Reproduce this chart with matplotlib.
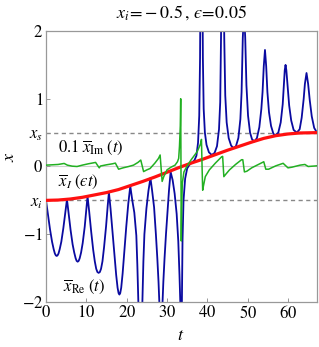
import matplotlib
matplotlib.use("Agg")
import matplotlib.pyplot as plt

plt.rcParams['font.family'] = ['Liberation Serif', 'DejaVu Serif']
plt.rcParams['mathtext.fontset'] = 'stix'

# x_Re(t)
t_re = [0, 0.5, 1.0, 1.5, 1.9, 2.2, 2.45, 2.65, 2.85, 3.1, 3.4, 3.8, 4.3, 4.8, 5.2,
        5.6, 6.1, 6.6, 7.0, 7.35, 7.6, 7.85, 8.1, 8.35, 8.7, 9.1, 9.6, 10.0, 10.3,
        10.7, 11.2, 11.7, 12.1, 12.45, 12.75, 13.05, 13.35, 13.65, 14.0, 14.4, 14.9, 15.3, 15.6,
        16.0, 16.5, 17.0, 17.4, 17.75, 18.0, 18.2, 18.4, 18.65, 19.0, 19.4, 19.9, 20.4, 20.9,
        21.4, 21.9, 22.4, 22.65, 22.9, 23.15, 23.4, 23.65, 23.9, 24.15, 24.4, 24.9, 25.4, 25.9,
        26.3, 26.8, 27.25, 27.6, 27.9, 28.1, 28.3, 28.5, 28.7, 28.9, 29.1, 29.4, 29.75, 30.2, 30.5, 30.9,
        31.4, 31.9, 32.4, 32.8, 33.1, 33.3, 33.42, 33.5, 33.6, 33.7, 33.85, 34.1, 34.5, 35.0, 35.5, 36.0,
        36.8, 37.3, 37.7, 38.0, 38.2, 38.35, 38.55, 38.75, 38.9, 39.1, 39.4, 39.8, 40.4, 41.1,
        41.8, 42.4, 42.9, 43.2, 43.4, 43.6, 43.8, 44.0, 44.2, 44.45, 44.8, 45.3, 45.9, 46.5,
        47.1, 47.7, 48.2, 48.5, 48.8, 49.1, 49.4, 49.7, 50.1, 50.6, 51.1, 51.7,
        52.3, 52.9, 53.4, 53.7, 54.0, 54.3, 54.6, 54.9, 55.3, 55.8, 56.4, 57.0,
        57.6, 58.2, 58.7, 59.0, 59.2, 59.4, 59.6, 59.9, 60.3, 60.8, 61.4, 62.2,
        62.9, 63.4, 63.9, 64.2, 64.6, 65.0, 65.4, 65.9, 66.5, 67.2]
x_re = [-0.50, -0.72, -0.93, -1.11, -1.22, -1.285, -1.313, -1.32, -1.313, -1.285, -1.22, -1.11, -0.91, -0.68, -0.485,
        -0.69, -0.94, -1.15, -1.27, -1.355, -1.393, -1.405, -1.393, -1.355, -1.27, -1.13, -0.89, -0.63, -0.44,
        -0.66, -0.96, -1.23, -1.40, -1.51, -1.558, -1.57, -1.558, -1.51, -1.40, -1.19, -0.88, -0.58, -0.38,
        -0.62, -0.97, -1.33, -1.60, -1.79, -1.87, -1.89, -1.87, -1.79, -1.58, -1.27, -0.89, -0.55, -0.29,
        -0.50, -0.68, -1.02, -1.45, -2.0, -2.8, -3.2, -2.8, -2.0, -1.4, -1.0, -0.62, -0.36, -0.17,
        -0.35, -0.60, -1.0, -1.35, -1.7, -2.0, -2.8, -4.0, -2.8, -2.0, -1.7, -1.35, -1.0, -0.6, -0.35, -0.08,
        -0.20, -0.40, -0.70, -1.1, -1.6, -2.0, -4.0, -10.0, -4.0, -2.0, -1.1, -0.5, -0.18, -0.03, 0.02, 0.05,
        0.09, 0.16, 0.35, 0.75, 1.6, 3.2, 7.0, 3.2, 1.6, 0.85, 0.5, 0.32, 0.21, 0.17,
        0.20, 0.30, 0.55, 0.95, 1.9, 3.2, 4.5, 3.2, 1.9, 1.05, 0.65, 0.42, 0.31, 0.27,
        0.30, 0.42, 0.70, 1.1, 1.9, 2.3, 1.9, 1.2, 0.75, 0.50, 0.40, 0.37,
        0.42, 0.58, 0.85, 1.1, 1.48, 1.72, 1.48, 1.1, 0.80, 0.60, 0.48, 0.46,
        0.50, 0.65, 0.92, 1.22, 1.42, 1.50, 1.42, 1.20, 0.90, 0.68, 0.54, 0.50,
        0.55, 0.72, 1.0, 1.22, 1.38, 1.22, 0.98, 0.74, 0.57, 0.50]

# 0.1 x_Im(t)
t_im = [0, 1.5, 3, 4.5, 5.3, 6.5, 7.7, 9, 10.5, 12.3, 13.2, 13.5, 15.0, 16.5, 17.2, 18.0,
        19.1, 20.5, 21.7, 22.8, 23.5, 24.2, 25.0, 25.8, 27.0, 27.9, 28.3, 28.8, 29.2, 30.0,
        31.0, 32.0, 32.6, 32.9, 33.1, 33.3, 33.4, 33.45, 33.5, 33.55, 33.65, 33.8, 34.2, 34.9,
        36.0, 37.5, 38.3, 38.55, 38.7, 38.85, 39.0, 39.5, 40.5, 42.0, 43.5, 43.8, 44.1, 44.5,
        45.5, 47.0, 48.5, 48.8, 49.2, 49.8, 51.0, 53.0, 54.0, 54.5, 55.2, 57.0, 58.8, 60.0,
        61.0, 63.0, 64.2, 65.0, 67.2]
x_im = [0.02, 0.025, 0.03, 0.045, 0.02, 0.005, 0.0, 0.02, 0.04, 0.06, -0.02, 0.007, 0.025, 0.04, 0.05, -0.04,
        -0.02, 0.0, 0.02, 0.06, 0.095, -0.075, -0.05, -0.03, 0.05, 0.12, 0.17, -0.22, -0.15, -0.05,
        -0.01, 0.02, 0.07, 0.12, 0.3, 0.6, 1.0, 0.3, -0.5, -1.1, -0.6, -0.25, -0.08, 0.0,
        0.1, 0.22, 0.33, 0.4, 0.0, -0.35, -0.3, -0.15, -0.05, 0.05, 0.14, 0.15, -0.15, -0.12,
        -0.05, 0.03, 0.1, 0.1, -0.08, -0.07, -0.02, 0.04, 0.07, -0.04, -0.04, 0.01, 0.047, -0.02,
        -0.01, 0.02, 0.03, 0.0, 0.01]

# x_I(eps t)
t_I = [0, 3, 6, 9, 12, 15, 18, 21, 24, 27, 30, 33, 36, 39, 42, 45, 48, 51, 54, 57, 60, 63, 67.2]
x_I = [-0.5, -0.495, -0.48, -0.455, -0.42, -0.385, -0.34, -0.28, -0.22, -0.155, -0.085, -0.015,
       0.05, 0.11, 0.175, 0.24, 0.30, 0.36, 0.415, 0.455, 0.48, 0.495, 0.50]

x_s = 0.5
x_i = -0.5

fig = plt.figure(figsize=(3.19, 3.47), dpi=100)
ax = fig.add_axes([46/319, 1 - 302/347, 271/319, 271/347])

ax.axhline(0, color='#d0d0d0', lw=0.8, zorder=1)
ax.axhline(x_s, color='#888888', lw=1.0, ls=(0, (3, 2.5)), zorder=1)
ax.axhline(x_i, color='#888888', lw=1.0, ls=(0, (3, 2.5)), zorder=1)

ax.plot(t_re, x_re, color='#0a0aa0', lw=1.3, zorder=2)
ax.plot(t_I, x_I, color='#ff1010', lw=2.3, zorder=3)
ax.plot(t_im, x_im, color='#22b022', lw=1.1, zorder=4)

ax.set_xlim(0, 67.2)
ax.set_ylim(-2, 2)
ax.set_xticks([0, 10, 20, 30, 40, 50, 60])
ax.set_yticks([-2, -1, x_i, 0, x_s, 1, 2])
ax.set_yticklabels(['$-2$', '$-1$', '$x_i$', '$0$', '$x_s$', '$1$', '$2$'])
ax.set_xticklabels(['$%d$' % v for v in [0, 10, 20, 30, 40, 50, 60]])
ax.tick_params(direction='in', length=3, width=0.6, color='#888888', labelsize=12, pad=2)
for s in ax.spines.values():
    s.set_color('#999999')
    s.set_linewidth(0.9)

ax.text(3.0, 0.28, r'$0.1\;\overline{x}_{\mathrm{Im}}\;(t)$', fontsize=12, va='center')
ax.text(3.0, -0.23, '$\\overline{x}_{I}\\;(\u03f5 t)$', fontsize=12, va='center')
ax.text(4.2, -1.78, r'$\overline{x}_{\mathrm{Re}}\;(t)$', fontsize=12, va='center')

fig.text(181/319, 1 - 13/347, '$x_i\\!=\\!-0.5\\,,\\,\u03f5\\!=\\!0.05$', fontsize=13,
         ha='center', va='center')
fig.text(10/319, 1 - 157/347, '$x$', fontsize=13, ha='center', va='center', rotation=90)
fig.text(181/319, 1 - 335/347, '$t$', fontsize=13, ha='center', va='center')

fig.savefig('out.png', dpi=100)
